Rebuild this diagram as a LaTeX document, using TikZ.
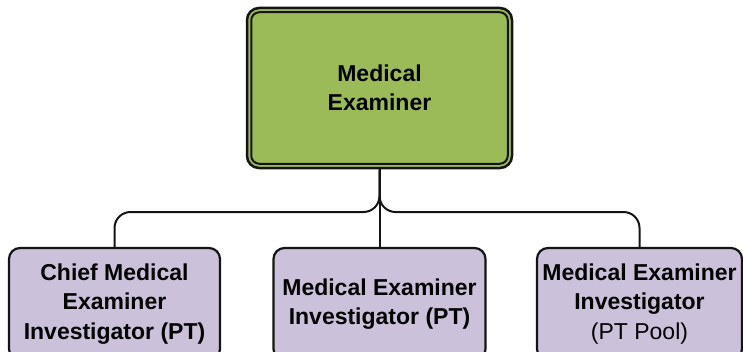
\documentclass[tikz,border=0pt]{standalone}
\usepackage{fontspec}
\setmainfont{Liberation Sans}
\usetikzlibrary{calc}
\definecolor{megreen}{HTML}{9BBB59}
\definecolor{staffpurple}{HTML}{CCC1DA}
\definecolor{edge}{HTML}{141414}
\begin{document}
\begin{tikzpicture}[x=1bp,y=1bp,
  boxtext/.style={font=\fontsize{23bp}{29.5bp}\selectfont\bfseries, align=center, text=black},
  headbox/.style={boxtext, draw=edge, line width=2.5bp, fill=megreen, rounded corners=12bp,
                  minimum width=265bp, minimum height=160bp, inner sep=0pt},
  staffbox/.style={boxtext, draw=edge, line width=2.2bp, fill=staffpurple, rounded corners=11bp,
                   minimum height=112bp, inner sep=0pt},
  link/.style={draw=edge, line width=2bp, rounded corners=16bp}]
  \useasboundingbox (0,0) rectangle (743,351);

  % head of office
  \node[headbox] (me) at (379.5,263) {Medical\\Examiner};
  \draw[edge, line width=2bp, rounded corners=8bp]
    ($(me.south west)+(5.5,5.5)$) rectangle ($(me.north east)+(-5.5,-5.5)$);

  % staff positions
  \node[staffbox, minimum width=211bp] (c1) at (114.5,47) {Chief Medical\\Examiner\\Investigator (PT)};
  \node[staffbox, minimum width=212bp] (c2) at (379.5,47) {Medical Examiner\\Investigator (PT)};
  \node[staffbox, minimum width=205bp] (c3) at (639.5,47) {Medical Examiner\\Investigator\\{\mdseries (PT Pool)}};

  % reporting lines
  \coordinate (bus) at (379.5,139);
  \draw[link] (me.south) -- (bus) -| (c1.north);
  \draw[link] (me.south) -- (bus) -| (c3.north);
  \draw[link] (me.south) -- (c2.north);
\end{tikzpicture}
\end{document}
